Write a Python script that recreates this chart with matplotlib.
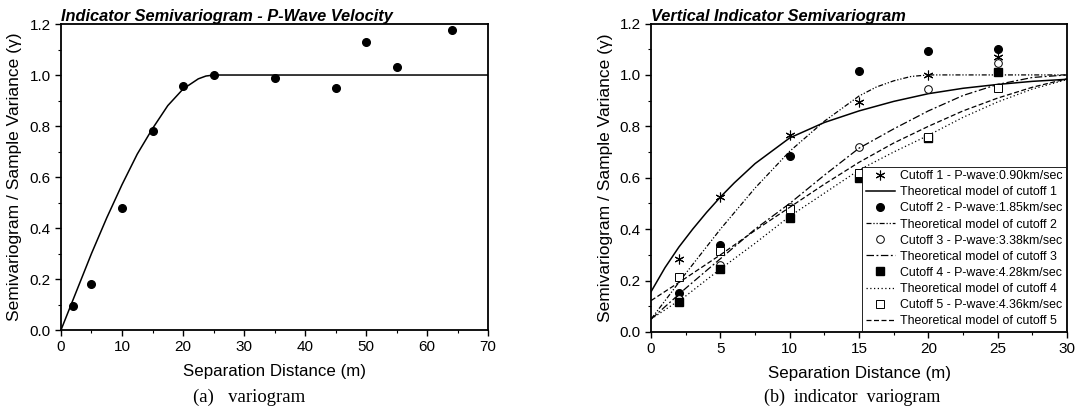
import numpy as np
import matplotlib
matplotlib.use("Agg")
import matplotlib.pyplot as plt
from matplotlib.ticker import MultipleLocator

plt.rcParams['font.family'] = ['Liberation Sans', 'DejaVu Sans']

# (a) experimental semivariogram, P-wave velocity
lag_a = [2, 5, 10, 15, 20, 25, 35, 45, 50, 55, 64]
gam_a = [0.095, 0.18, 0.48, 0.78, 0.955, 1.0, 0.99, 0.95, 1.13, 1.03, 1.175]

# model curve
mod_x_a = [0, 2.5, 5, 7.5, 10, 12.5, 15, 17.5, 20, 22.5, 23.75, 25, 70]
mod_y_a = [0, 0.15, 0.30, 0.44, 0.57, 0.69, 0.79, 0.88, 0.945, 0.985, 0.996, 1.0, 1.0]

# (b) vertical indicator semivariograms
lag_b = [2, 5, 10, 15, 20, 25]
cut1 = [0.285, 0.525, 0.765, 0.895, 1.0, 1.07]
cut2 = [0.15, 0.338, 0.685, 1.015, 1.095, 1.10]
cut3 = [0.13, 0.26, 0.485, 0.72, 0.945, 1.045]
cut4 = [0.118, 0.243, 0.443, 0.597, 0.755, 1.01]
cut5 = [0.215, 0.315, 0.478, 0.62, 0.758, 0.95]

labels_pts = ["Cutoff 1 - P-wave:0.90km/sec", "Cutoff 2 - P-wave:1.85km/sec",
              "Cutoff 3 - P-wave:3.38km/sec", "Cutoff 4 - P-wave:4.28km/sec",
              "Cutoff 5 - P-wave:4.36km/sec"]
labels_mod = ["Theoretical model of cutoff %d" % i for i in range(1, 6)]

# theoretical model curves
m1_x = [0, 1, 2, 3, 4, 5, 6, 7.5, 10, 12.5, 15, 17.5, 20, 22.5, 25, 27.5, 30]
m1_y = [0.157, 0.25, 0.33, 0.40, 0.465, 0.525, 0.58, 0.655, 0.755, 0.815, 0.86,
        0.897, 0.927, 0.948, 0.963, 0.975, 0.983]
m2_x = [0, 2.5, 5, 7.5, 10, 12.5, 15, 16.25, 17.5, 18.75, 20, 30]
m2_y = [0.05, 0.228, 0.40, 0.56, 0.703, 0.82, 0.918, 0.953, 0.977, 0.994, 1.0, 1.0]
m3_x = [0, 2.5, 5, 7.5, 10, 12.5, 15, 17.5, 20, 22.5, 25, 27.5, 30]
m3_y = [0.05, 0.17, 0.285, 0.40, 0.50, 0.61, 0.715, 0.79, 0.86, 0.92, 0.963, 0.99, 1.0]
m4_y = [0.05, 0.14, 0.245, 0.345, 0.45, 0.54, 0.63, 0.70, 0.765, 0.835, 0.895, 0.945, 0.982]
m5_y = [0.122, 0.21, 0.30, 0.395, 0.485, 0.575, 0.66, 0.735, 0.80, 0.86, 0.91, 0.952, 0.985]

fig = plt.figure(figsize=(10.87, 4.17), dpi=100)
ax1 = fig.add_axes([0.0561, 0.2086, 0.393, 0.7338])
ax2 = fig.add_axes([0.599, 0.204, 0.3826, 0.7396])

# ---- left panel
ax1.plot(mod_x_a, mod_y_a, color='black', lw=1.1)
ax1.plot(lag_a, gam_a, 'o', color='black', ms=5.5)
ax1.set_xlim(0, 70)
ax1.set_ylim(0, 1.2)
ax1.xaxis.set_major_locator(MultipleLocator(10))
ax1.xaxis.set_minor_locator(MultipleLocator(5))
ax1.yaxis.set_major_locator(MultipleLocator(0.2))
ax1.yaxis.set_minor_locator(MultipleLocator(0.1))
ax1.yaxis.set_major_formatter(plt.FormatStrFormatter('%.1f'))
ax1.set_title("Indicator Semivariogram - P-Wave Velocity", loc='left',
              fontsize=11.8, fontweight='bold', style='italic', pad=2)

# ---- right panel
ax2.plot(lag_b, cut1, linestyle='none', marker=(6, 2, 0), color='black', ms=7,
         mew=0.8, label=labels_pts[0])
ax2.plot(m1_x, m1_y, color='black', lw=1.1, label=labels_mod[0])
ax2.plot(lag_b, cut2, 'o', color='black', ms=5.5, label=labels_pts[1])
ax2.plot(m2_x, m2_y, color='black', lw=0.9, ls=(0, (4, 1.5, 1, 1.5, 1, 1.5)),
         label=labels_mod[1])
ax2.plot(lag_b, cut3, 'o', color='black', mfc='white', ms=5.5, mew=0.7,
         label=labels_pts[2])
ax2.plot(m3_x, m3_y, color='black', lw=0.9, ls=(0, (6, 2, 1.5, 2)),
         label=labels_mod[2])
ax2.plot(lag_b, cut4, 's', color='black', ms=5.5, label=labels_pts[3])
ax2.plot(m3_x, m4_y, color='black', lw=0.9, ls=(0, (1, 2)), label=labels_mod[3])
ax2.plot(lag_b, cut5, 's', color='black', mfc='white', ms=5.5, mew=0.7,
         label=labels_pts[4])
ax2.plot(m3_x, m5_y, color='black', lw=0.9, ls=(0, (4, 2)), label=labels_mod[4])
ax2.set_xlim(0, 30)
ax2.set_ylim(0, 1.2)
ax2.xaxis.set_major_locator(MultipleLocator(5))
ax2.xaxis.set_minor_locator(MultipleLocator(2.5))
ax2.yaxis.set_major_locator(MultipleLocator(0.2))
ax2.yaxis.set_minor_locator(MultipleLocator(0.1))
ax2.yaxis.set_major_formatter(plt.FormatStrFormatter('%.1f'))
ax2.set_title("Vertical Indicator Semivariogram", loc='left',
              fontsize=11.8, fontweight='bold', style='italic', pad=2)
leg = ax2.legend(loc='lower right', fontsize=8.9, frameon=True, fancybox=False,
                 edgecolor='black', framealpha=1, borderaxespad=0.1,
                 labelspacing=0.33, handlelength=2.3, handletextpad=0.4,
                 borderpad=0.3)
leg.get_frame().set_linewidth(0.6)

for ax in (ax1, ax2):
    ax.tick_params(which='major', direction='out', length=4, width=1,
                   labelsize=11)
    ax.tick_params(which='minor', direction='out', length=2, width=0.8)
    for s in ax.spines.values():
        s.set_linewidth(1.3)
    ax.set_xlabel("Separation Distance (m)", fontsize=12.2, labelpad=7)
    ax.set_ylabel("Semivariogram / Sample Variance (\u03b3)", fontsize=12.5,
                  labelpad=5)

fig.text(0.229, 0.035, "(a)   variogram", ha='center', fontsize=13.5,
         family='Liberation Serif')
fig.text(0.784, 0.035, "(b)  indicator  variogram", ha='center', fontsize=13,
         family='Liberation Serif')

fig.savefig("out.png", dpi=100)
